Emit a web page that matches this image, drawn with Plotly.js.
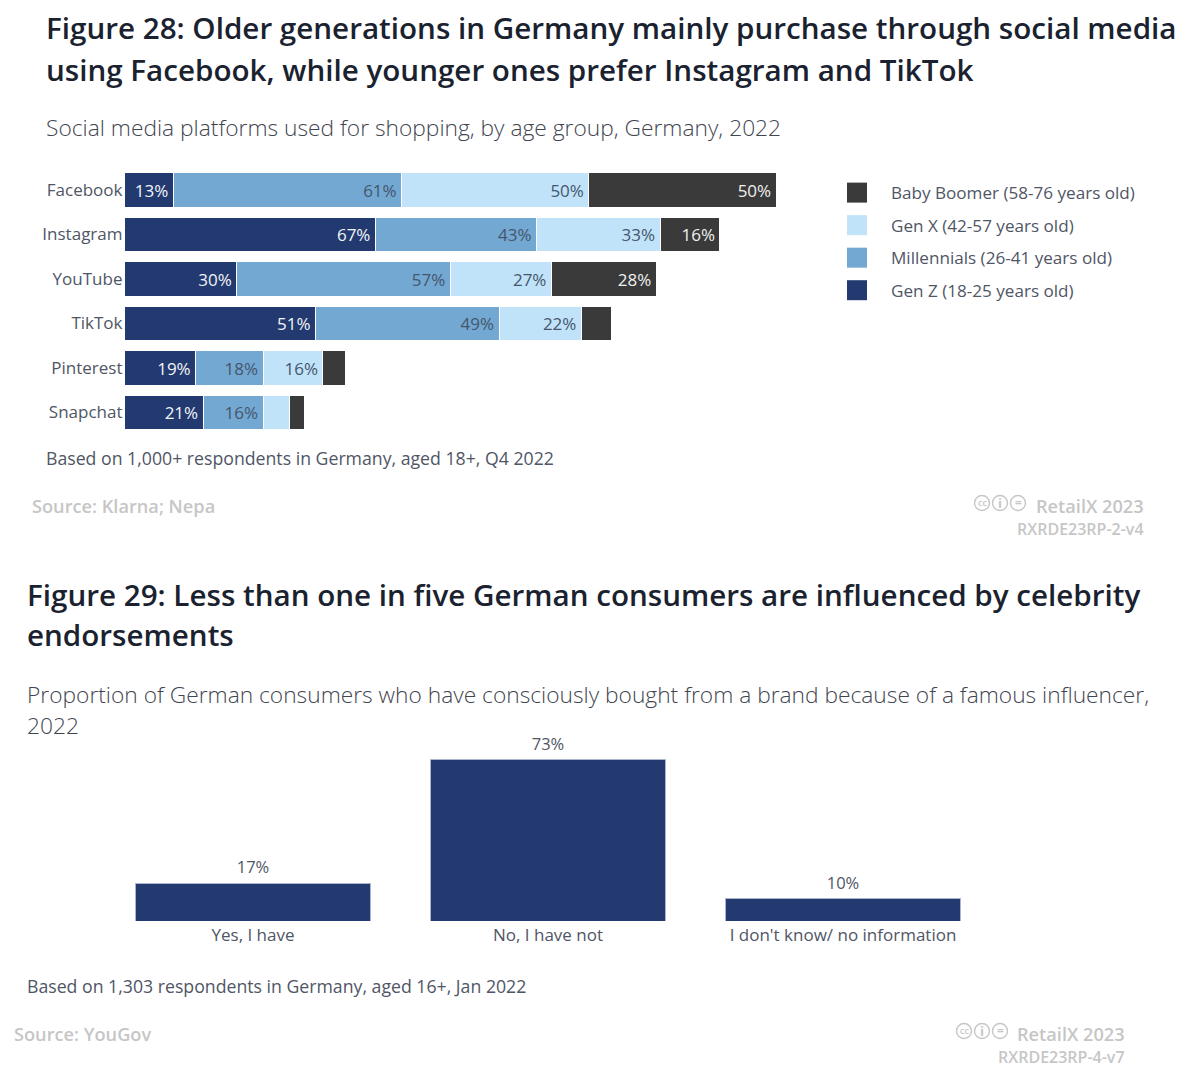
<!DOCTYPE html>
<html><head><meta charset="utf-8">
<script src="https://cdn.plot.ly/plotly-3.0.1.min.js"></script>
<style>html,body{margin:0;padding:0;background:#fff}#chart{width:1204px;height:1080px}</style>
</head><body><div id="chart"></div>
<script>
const platforms = ["Facebook","Instagram","YouTube","TikTok","Pinterest","Snapchat"];
const genZ = [13,67,30,51,19,21];
const millennials = [61,43,57,49,18,16];
const genX = [50,33,27,22,16,7];
const boomer = [50,16,28,8,6,4];
const genZLabels = ["13%","67%","30%","51%","19%","21%"];
const millennialLabels = ["61%","43%","57%","49%","18%","16%"];
const genXLabels = ["50%","33%","27%","22%","16%",""];
const boomerLabels = ["50%","16%","28%","","",""];
const answers = ["Yes, I have","No, I have not","I don't know/ no information"];
const answerValues = [17,73,10];
const answerLabels = ["17%","73%","10%"];

const W = 1204, H = 1080;
const px = x => x / W, py = y => 1 - y / H;
const FONT = "'Open Sans', sans-serif";
const INK = "#1a2230", SUB = "#4f5665", LIGHTSUB = "#3f4650", GREY = "#c6c6c6";

function stack(name, values, labels, color, textColor, rank) {
  return {type:"bar", orientation:"h", name, x:values, y:platforms, xaxis:"x", yaxis:"y",
    legendgroup:name, legendrank:rank, text:labels, textposition:"inside", insidetextanchor:"end", textangle:0,
    constraintext:"none", cliponaxis:false,
    insidetextfont:{family:FONT,size:17,color:textColor},
    marker:{color, line:{color:"#ffffff",width:1}}, hoverinfo:"x+y+name"};
}
const traces = [
  stack("Gen Z (18-25 years old)", genZ, genZLabels, "#223a70", "#f2f4f8", 4),
  stack("Millennials (26-41 years old)", millennials, millennialLabels, "#72a8d2", "#46566c", 3),
  stack("Gen X (42-57 years old)", genX, genXLabels, "#c0e3f9", "#46566c", 2),
  stack("Baby Boomer (58-76 years old)", boomer, boomerLabels, "#3a3a3a", "#f0f0f0", 1),
  {type:"bar", x:answers, y:answerValues, width:[0.797,0.797,0.797], xaxis:"x2", yaxis:"y2", showlegend:false,
    text:answerLabels, textposition:"outside", cliponaxis:false,
    textfont:{family:FONT,size:16.5,color:SUB},
    marker:{color:"#223a70", line:{color:"#aab6cf",width:1}}, hoverinfo:"x+y"}
];

function txt(text, x, y, size, color, weight, anchor) {
  return {text, x:px(anchor==="right" ? x+2 : anchor==="center" ? x : x-2), y:py(y-1), xref:"paper", yref:"paper", showarrow:false,
    xanchor:anchor||"left", yanchor:"middle", align:anchor||"left",
    font:{family:FONT,size,color,weight:weight||400}};
}
function ring(cx, cy) {
  const r = 7.5;
  return {type:"circle", xref:"paper", yref:"paper", x0:px(cx-r), x1:px(cx+r), y0:py(cy+r), y1:py(cy-r),
    line:{color:GREY,width:1.4}, fillcolor:"rgba(0,0,0,0)"};
}
function badge(x, y) {
  return [txt("cc", x, y, 9, GREY, 600, "center"),
          txt("i", x+18, y+1, 13, GREY, 700, "center"),
          txt("=", x+36, y, 12, GREY, 700, "center")];
}

const annotations = [
  txt("Figure 28: Older generations in Germany mainly purchase through social media", 46, 29, 29.6, INK, 600),
  txt("using Facebook, while younger ones prefer Instagram and TikTok", 46, 70.5, 29.6, INK, 600),
  txt("Social media platforms used for shopping, by age group, Germany, 2022", 46, 129, 22.75, LIGHTSUB, 300),
  txt("Based on 1,000+ respondents in Germany, aged 18+, Q4 2022", 46, 459, 17.7, SUB, 400),
  txt("Source: Klarna; Nepa", 32, 507, 18.2, GREY, 600),
  txt("RetailX 2023", 1144, 507, 18.2, GREY, 600, "right"),
  txt("RXRDE23RP-2-v4", 1144, 530, 16, GREY, 600, "right"),
  ...badge(982, 503),
  txt("Figure 29: Less than one in five German consumers are influenced by celebrity", 27, 595, 29.6, INK, 600),
  txt("endorsements", 27, 636, 29.6, INK, 600),
  txt("Proportion of German consumers who have consciously bought from a brand because of a famous influencer,", 27, 695, 22.75, LIGHTSUB, 300),
  txt("2022", 27, 726, 22.75, LIGHTSUB, 300),
  txt("Based on 1,303 respondents in Germany, aged 16+, Jan 2022", 27, 987, 17.7, SUB, 400),
  txt("Source: YouGov", 14, 1035, 18.2, GREY, 600),
  txt("RetailX 2023", 1125, 1035, 18.2, GREY, 600, "right"),
  txt("RXRDE23RP-4-v7", 1125, 1058, 16, GREY, 600, "right"),
  ...badge(964, 1031)
];
const shapes = [982,1000,1018,964,982,1000].map((x,i)=>ring(x, i<3?503:1031));

const layout = {
  width:W, height:H, margin:{l:0,r:0,t:0,b:0}, paper_bgcolor:"#fff", plot_bgcolor:"#fff",
  barmode:"stack", bargap:0.215, showlegend:true,
  xaxis:{domain:[px(124.5),px(900)], range:[0,(900-124.5)/3.745], anchor:"y", visible:false, fixedrange:true},
  yaxis:{domain:[py(434.75),py(167.75)], anchor:"x", autorange:false, range:[5.5,-0.5], type:"category",
    categoryorder:"array", categoryarray:platforms, ticks:"", showline:false, showgrid:false, zeroline:false,
    ticklabelstandoff:1, tickfont:{family:FONT,size:17,color:SUB}},
  xaxis2:{domain:[px(105.5),px(990.5)], anchor:"y2", type:"category", ticks:"", showline:false, showgrid:false,
    ticklabelstandoff:2, tickfont:{family:FONT,size:17,color:SUB}},
  yaxis2:{domain:[py(921),py(745)], anchor:"x2", range:[0,(921-745)/2.21], visible:false},
  legend:{x:px(823), y:py(175), xanchor:"left", yanchor:"top", traceorder:"grouped", tracegroupgap:7.3,
    itemwidth:58, itemclick:false, itemdoubleclick:false, font:{family:FONT,size:17.1,color:SUB}, bgcolor:"rgba(0,0,0,0)"},
  annotations, shapes
};
Plotly.newPlot("chart", traces, layout, {displayModeBar:false}).then(gd=>{
  gd.querySelectorAll(".legend .legendpoints path").forEach(p=>{
    p.setAttribute("d","M10,10H-10V-10H10Z");
    p.style.strokeWidth="0";
  });
  gd.querySelectorAll(".barlayer .trace").forEach((t,i)=>{
    const shift = i < 4 ? "translate(-2,0) " : "translate(0,-2) ";
    t.querySelectorAll("text.bartext").forEach(el=>{
      el.setAttribute("transform", shift + (el.getAttribute("transform")||""));
    });
  });
});
</script></body></html>
